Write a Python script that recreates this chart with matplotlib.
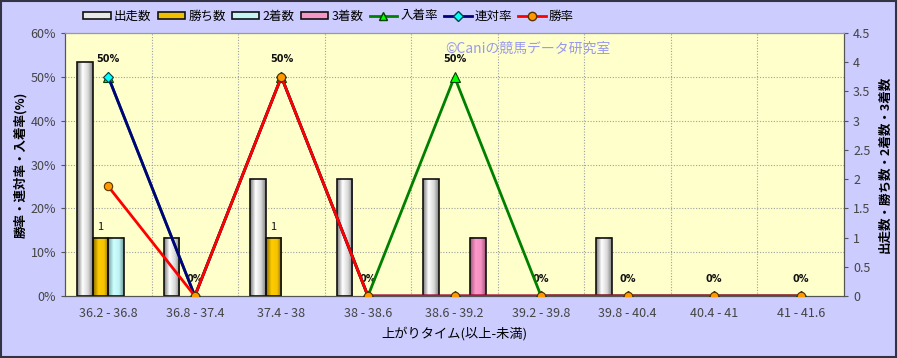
import numpy as np
import matplotlib
matplotlib.use("Agg")
import matplotlib.pyplot as plt
from matplotlib.colors import LinearSegmentedColormap
from matplotlib.patches import Patch, Rectangle
from matplotlib.lines import Line2D

plt.rcParams['font.family'] = ['Noto Sans CJK JP', 'DejaVu Sans']

categories = ["36.2 - 36.8", "36.8 - 37.4", "37.4 - 38", "38 - 38.6", "38.6 - 39.2",
              "39.2 - 39.8", "39.8 - 40.4", "40.4 - 41", "41 - 41.6"]
starts = [4, 1, 2, 2, 2, 0, 1, 0, 0]
wins = [1, 0, 1, 0, 0, 0, 0, 0, 0]
seconds = [1, 0, 0, 0, 0, 0, 0, 0, 0]
thirds = [0, 0, 0, 0, 1, 0, 0, 0, 0]
place_rate = [50, 0, 50, 0, 50, 0, 0, 0, 0]
quinella_rate = [50, 0, 50, 0, 0, 0, 0, 0, 0]
win_rate = [25, 0, 50, 0, 0, 0, 0, 0, 0]

bar_names = ["出走数", "勝ち数", "2着数", "3着数"]
bar_series = [starts, wins, seconds, thirds]
bar_colors = [
    ["#7a7a7a", "#ffffff", "#d8d8d8", "#808080"],
    ["#8a6e00", "#ffcc00", "#f5c400", "#8a6e00"],
    ["#6f9c9c", "#ccffff", "#bff2f2", "#6f9c9c"],
    ["#a0557a", "#ff99cc", "#f590c2", "#a0557a"],
]
legend_fill = ["#e8e8e8", "#f0c000", "#c4f4f4", "#f596c8"]

fig = plt.figure(figsize=(8.98, 3.58), dpi=100)
fig.patch.set_facecolor("#ccccff")
fig.patches.append(Rectangle((0.001, 0.002), 0.997, 0.995, transform=fig.transFigure,
                             fill=False, edgecolor="#333344", linewidth=1.5))

L, R, T, B = 65, 844, 33, 296
ax2 = fig.add_axes([L / 898, 1 - B / 358, (R - L) / 898, (B - T) / 358])
ax = ax2.twinx()
ax.yaxis.tick_left()
ax.yaxis.set_label_position("left")
ax2.yaxis.tick_right()
ax2.yaxis.set_label_position("right")
ax2.set_facecolor("#ffffcc")
ax.patch.set_visible(False)

n = len(categories)
x = np.arange(n)
bw = 0.18
offsets = [-0.27, -0.09, 0.09, 0.27]

# grid (drawn on the bar axis so bars cover it)
for g in np.arange(0.75, 4.6, 0.75):
    ax2.axhline(g, color="#a0a0a0", linestyle=(0, (1, 1.5)), linewidth=0.8, zorder=0)
for b in np.arange(0.5, n - 0.5, 1):
    ax2.axvline(b, color="#a0a0a0", linestyle=(0, (1, 1.5)), linewidth=0.8, zorder=0)

grad = np.linspace(0, 1, 64).reshape(1, -1)
for k, (vals, cols) in enumerate(zip(bar_series, bar_colors)):
    cmap = LinearSegmentedColormap.from_list("c%d" % k, list(zip([0, 0.35, 0.7, 1], cols)))
    for i, v in enumerate(vals):
        if v <= 0:
            continue
        x0 = x[i] + offsets[k] - bw / 2
        ax2.imshow(grad, cmap=cmap, extent=(x0, x0 + bw, 0, v), aspect="auto", zorder=2)
        ax2.add_patch(Rectangle((x0, 0), bw, v, fill=False, edgecolor="#111111",
                                linewidth=1.2, zorder=3))

for i, v in enumerate(wins):
    if v > 0:
        ax2.annotate(str(v), (x[i] + offsets[1], v), xytext=(0, 4), textcoords="offset points",
                     ha="center", va="bottom", fontsize=8, color="#111111")

ax2.set_xlim(-0.5, n - 0.5)
ax2.set_ylim(0, 4.5)
ax2.set_yticks(np.arange(0, 4.6, 0.5))
ax2.set_yticklabels(["0", "0.5", "1", "1.5", "2", "2.5", "3", "3.5", "4", "4.5"])
ax2.set_xticks(x)
ax2.set_xticklabels(categories)

ax.plot(x, place_rate, color="#008000", linewidth=2, marker="^", markersize=7,
        markerfacecolor="#00ff00", markeredgecolor="#004000", markeredgewidth=0.8, zorder=4)
ax.plot(x, quinella_rate, color="#000080", linewidth=2, marker="D", markersize=5.5,
        markerfacecolor="#00ffff", markeredgecolor="#004040", markeredgewidth=0.8, zorder=5)
ax.plot(x, win_rate, color="#ff0000", linewidth=2, marker="o", markersize=6,
        markerfacecolor="#ff9900", markeredgecolor="#553300", markeredgewidth=0.8, zorder=6)
for i, v in enumerate(place_rate):
    ax.annotate("%d%%" % v, (x[i], v), xytext=(0, 9), textcoords="offset points",
                ha="center", va="bottom", fontsize=7, fontweight="bold",
                family="DejaVu Sans", color="#111111")

ax.set_xlim(-0.5, n - 0.5)
ax.set_ylim(0, 60)
ax.set_yticks(np.arange(0, 61, 10))
ax.set_yticklabels(["%d%%" % v for v in range(0, 61, 10)])

for a in (ax, ax2):
    for s in a.spines.values():
        s.set_color("#555555")
    a.tick_params(colors="#555555", labelcolor="#444444", labelsize=9, length=3)
ax2.spines["top"].set_color("#999999")
ax.spines["top"].set_color("#999999")
ax2.tick_params(axis="x", length=0, pad=8)

ax.set_ylabel("勝率・連対率・入着率(%)", fontsize=9, fontweight="bold", labelpad=2)
ax2.set_ylabel("出走数・勝ち数・2着数・3着数", fontsize=9, fontweight="bold", labelpad=6)
ax2.set_xlabel("上がりタイム(以上-未満)", fontsize=9.5, labelpad=5)

fig.text(445 / 898, 1 - 49 / 358, "©Caniの競馬データ研究室", fontsize=10,
         color="#9999ee", ha="left", va="center")

handles = [Patch(facecolor=c, edgecolor="#111111", linewidth=1.2) for c in legend_fill]
handles += [
    Line2D([], [], color="#008000", linewidth=2, marker="^", markersize=6,
           markerfacecolor="#00ff00", markeredgecolor="#004000"),
    Line2D([], [], color="#000080", linewidth=2, marker="D", markersize=5,
           markerfacecolor="#00ffff", markeredgecolor="#004040"),
    Line2D([], [], color="#ff0000", linewidth=2, marker="o", markersize=6,
           markerfacecolor="#ff9900", markeredgecolor="#553300"),
]
labels = bar_names + ["入着率", "連対率", "勝率"]
fig.legend(handles, labels, loc="center left", bbox_to_anchor=(0.087, 1 - 16 / 358),
           ncol=7, frameon=False, fontsize=9, handlelength=2.2, handleheight=0.5,
           handletextpad=0.25, columnspacing=0.5, borderaxespad=0)

fig.savefig("out.png", dpi=100, facecolor=fig.get_facecolor())
